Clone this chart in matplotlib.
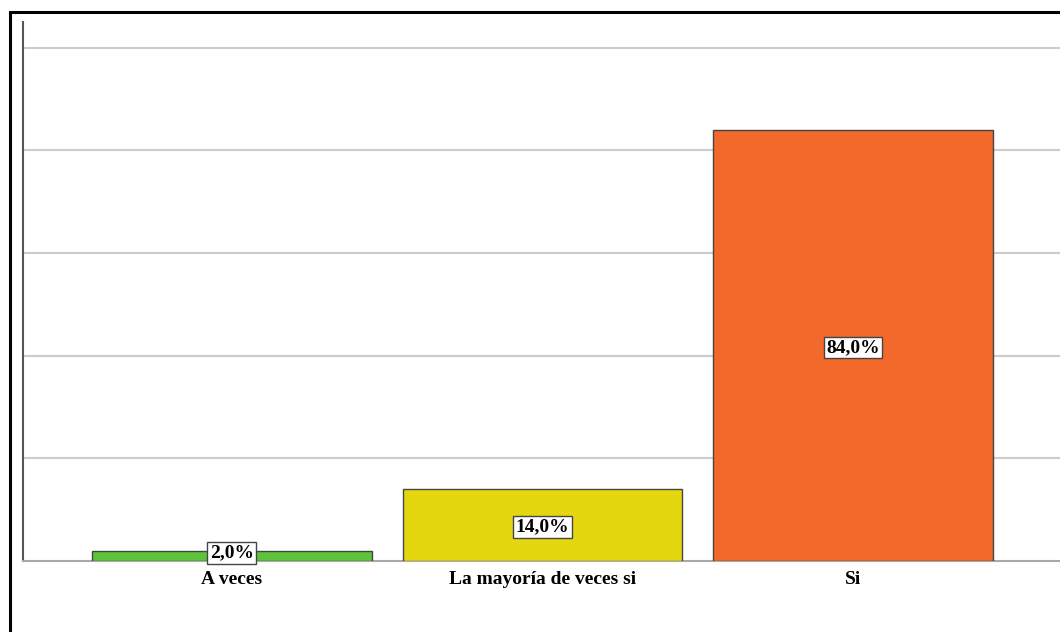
import matplotlib.pyplot as plt
from matplotlib.patches import Rectangle

categorias = ["A veces", "La mayoría de veces si", "Si"]
porcentajes = [2.0, 14.0, 84.0]
colores = ["#5cc43a", "#e4d710", "#f3682b"]

W, H = 1060, 632
fig = plt.figure(figsize=(W / 100, H / 100), dpi=100)

# marco negro del grafico (se sale por la derecha y abajo)
fig.patches.append(Rectangle((10 / W, -0.05), 1.1, 1.05 - 12 / H, transform=fig.transFigure,
                             fill=False, edgecolor="black", linewidth=2.2, zorder=0))

ax = fig.add_axes([23 / W, (H - 561) / H, (1062 - 23) / W, (561 - 22) / H])
pos = list(range(len(categorias)))
bars = ax.bar(pos, porcentajes, width=0.9, color=colores, edgecolor="#444444", linewidth=1, zorder=3)

ax.set_xlim(-0.672, 2.672)
ax.set_ylim(0, 105)
ax.set_yticks([20, 40, 60, 80, 100])
ax.yaxis.grid(True, color="#cccccc", linewidth=1.5, zorder=0)
ax.set_axisbelow(True)
ax.tick_params(axis="y", left=False, labelleft=False)
ax.tick_params(axis="x", bottom=False, pad=4)
ax.set_xticks(pos)
ax.set_xticklabels(categorias, fontfamily="Liberation Serif", fontweight="bold", fontsize=14)

for s in ["top", "right"]:
    ax.spines[s].set_visible(False)
ax.spines["left"].set_color("#555555")
ax.spines["left"].set_linewidth(1.5)
ax.spines["bottom"].set_color("#aaaaaa")
ax.spines["bottom"].set_linewidth(1.5)

for b, v in zip(bars, porcentajes):
    # las etiquetas de barras bajas se suben un poco para no tapar el eje
    y = max(v / 2 - 0.4, 1.6)
    ax.text(b.get_x() + b.get_width() / 2, y, f"{v:.1f}%".replace(".", ","),
            ha="center", va="center", fontfamily="Liberation Serif", fontweight="bold", fontsize=14,
            bbox=dict(boxstyle="square,pad=0.12", facecolor="white", edgecolor="#444444", linewidth=1),
            zorder=5)

fig.savefig("out.png", dpi=100)
